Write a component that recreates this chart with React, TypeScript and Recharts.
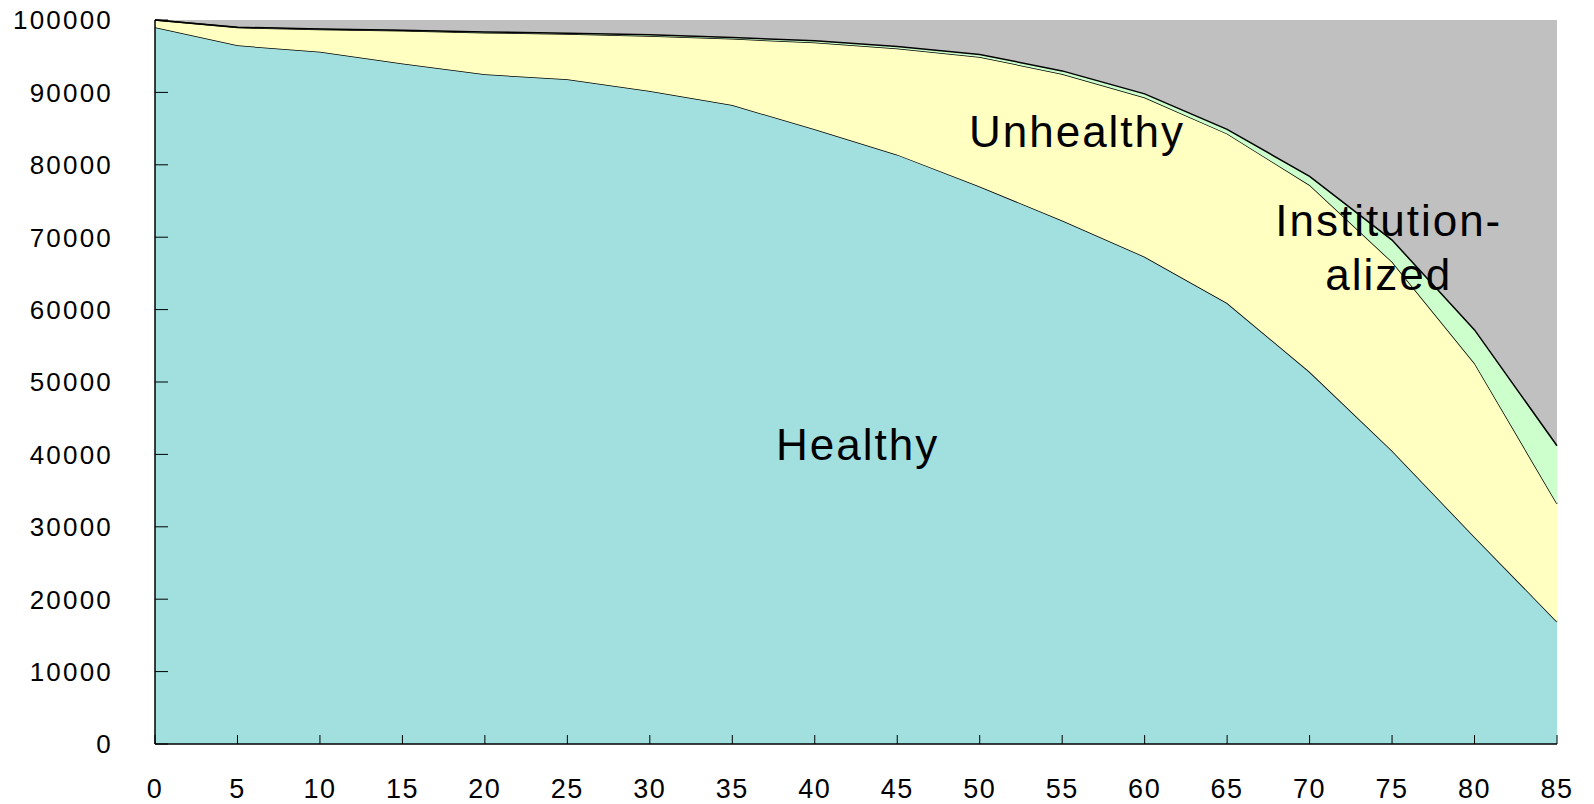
import { Area, AreaChart, CartesianGrid, ReferenceDot, XAxis, YAxis } from "recharts";

const ages = [0, 5, 10, 15, 20, 25, 30, 35, 40, 45, 50, 55, 60, 65, 70, 75, 80, 85];
const healthy = [99000, 96500, 95600, 94000, 92500, 91800, 90200, 88250, 84900, 81400, 77000, 72300, 67300, 60900, 51400, 40500, 28600, 16900];
const unhealthy = [1000, 2450, 3100, 4500, 5750, 6250, 7600, 9150, 12000, 14650, 17900, 20250, 22000, 23400, 25800, 26100, 24000, 16300];
const institutionalized = [0, 50, 60, 80, 100, 120, 150, 180, 220, 280, 350, 420, 500, 600, 1200, 3000, 4600, 8000];

const xTicks = [0, 5, 10, 15, 20, 25, 30, 35, 40, 45, 50, 55, 60, 65, 70, 75, 80, 85];
const yTicks = [0, 10000, 20000, 30000, 40000, 50000, 60000, 70000, 80000, 90000, 100000];

const data = ages.map((age, i) => ({
  age,
  healthy: healthy[i],
  unhealthy: unhealthy[i],
  inst: institutionalized[i]
}));

const FONT = "Arial, 'Liberation Sans', sans-serif";

function XTick({ x, y, payload }: any) {
  return (
    <g>
      <line x1={x} x2={x} y1={y} y2={y - 9} stroke="#000" strokeWidth={1} />
      <text x={x} y={y + 44} dy="0.36em" textAnchor="middle" fontFamily={FONT} fontSize={27} letterSpacing={1.5} fill="#000">
        {payload.value}
      </text>
    </g>
  );
}

function YTick({ x, y, payload }: any) {
  return (
    <g>
      <line x1={x} x2={x + 13} y1={y} y2={y} stroke="#000" strokeWidth={1} />
      <text x={x - 42} y={y} dy="0.36em" textAnchor="end" fontFamily={FONT} fontSize={26} letterSpacing={2.2} fill="#000">
        {payload.value}
      </text>
    </g>
  );
}

function AreaLabel({ text }: { text: string }) {
  return function Lbl(props: any) {
    const { viewBox } = props;
    const cx = viewBox.x + (viewBox.width || 0) / 2;
    const cy = viewBox.y + (viewBox.height || 0) / 2;
    return (
      <text x={cx} y={cy} dy="0.36em" textAnchor="middle" fontFamily={FONT} fontSize={44} letterSpacing={2} fill="#000">
        {text}
      </text>
    );
  };
}

export default function App() {
  return (
    <div style={{ width: 1594, height: 804 }}>
      <style>{"html,body{margin:0;overflow:hidden}"}</style>
      <AreaChart width={1594} height={804} data={data} margin={{ top: 20, right: 37, left: 0, bottom: 6 }}>
        <CartesianGrid fill="#c0c0c0" horizontal={false} vertical={false} />
        <XAxis
          dataKey="age"
          type="number"
          domain={[0, 85]}
          ticks={xTicks}
          interval={0}
          height={54}
          tickSize={0}
          tickMargin={0}
          tickLine={false}
          axisLine={{ stroke: "#000", strokeWidth: 1.5 }}
          tick={<XTick />}
        />
        <XAxis xAxisId="top" orientation="top" type="number" domain={[0, 85]} height={0} tick={false} tickLine={false} axisLine={{ stroke: "#808080", strokeWidth: 1.5 }} />
        <YAxis
          type="number"
          domain={[0, 100000]}
          ticks={yTicks}
          interval={0}
          width={155}
          tickSize={0}
          tickMargin={0}
          tickLine={false}
          axisLine={{ stroke: "#000", strokeWidth: 1.5 }}
          tick={<YTick />}
        />
        <YAxis yAxisId="right" orientation="right" type="number" domain={[0, 100000]} width={0} tick={false} tickLine={false} axisLine={{ stroke: "#808080", strokeWidth: 1.5 }} />
        <Area dataKey="healthy" stackId="1" type="linear" fill="#a2e0e0" fillOpacity={1} stroke="#000" strokeWidth={1.5} isAnimationActive={false} />
        <Area dataKey="unhealthy" stackId="1" type="linear" fill="#ffffc2" fillOpacity={1} stroke="#000" strokeWidth={1.5} isAnimationActive={false} />
        <Area dataKey="inst" stackId="1" type="linear" fill="#ccffcc" fillOpacity={1} stroke="#000" strokeWidth={1.5} isAnimationActive={false} />
        <ReferenceDot x={42.6} y={41400} r={0} stroke="none" label={AreaLabel({ text: "Healthy" })} />
        <ReferenceDot x={55.9} y={84700} r={0} stroke="none" label={AreaLabel({ text: "Unhealthy" })} />
        <ReferenceDot x={74.8} y={72400} r={0} stroke="none" label={AreaLabel({ text: "Institution-" })} />
        <ReferenceDot x={74.8} y={64900} r={0} stroke="none" label={AreaLabel({ text: "alized" })} />
      </AreaChart>
    </div>
  );
}
